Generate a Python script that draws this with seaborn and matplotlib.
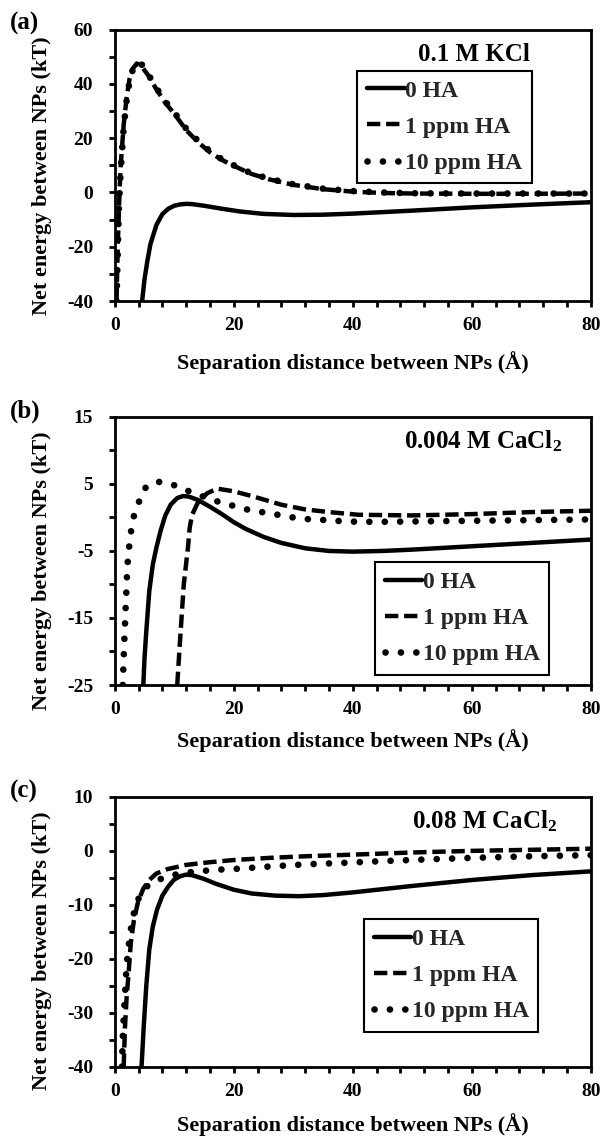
import matplotlib
matplotlib.use("Agg")
import matplotlib.pyplot as plt
import seaborn as sns
from matplotlib.ticker import MultipleLocator

# estilo general
sns.set_theme(style="ticks")
plt.rcParams["font.family"] = ["Liberation Serif", "DejaVu Serif"]
plt.rcParams["font.weight"] = "bold"
plt.rcParams["mathtext.fontset"] = "custom"
plt.rcParams["mathtext.rm"] = "Liberation Serif:bold"
plt.rcParams["mathtext.default"] = "rm"
plt.rcParams["axes.unicode_minus"] = False

series_labels = ["0 HA", "1 ppm HA", "10 ppm HA"]

# (a) 0.1 M KCl
a_x0 = [4.6, 5.0, 5.5, 6.0, 7.0, 8.0, 9.0, 10, 11, 12, 13, 15, 18, 21, 25, 30, 35, 40, 50, 60, 70, 80]
a_y0 = [-40, -32, -25, -19, -12, -8, -6, -4.9, -4.4, -4.2, -4.3, -4.9, -6.0, -7.0, -7.9, -8.3, -8.2, -7.8, -6.7, -5.5, -4.5, -3.6]
a_x1 = [0.3, 0.5, 0.8, 1.0, 1.5, 2.0, 2.5, 3.0, 3.7, 4.5, 5.5, 7, 8.5, 10, 12, 14, 16, 18, 20, 23, 26, 30, 35, 40, 45, 50, 60, 70, 80]
a_y1 = [-40, -20, 0, 10, 25, 35, 42, 45.5, 47.5, 46.5, 43.5, 38, 33, 29, 23, 18.5, 14.8, 12, 9.8, 6.8, 4.8, 2.8, 1.2, 0.3, -0.2, -0.4, -0.5, -0.5, -0.4]
a_x2 = [0.3, 0.5, 0.7, 1.0, 1.5, 2.0, 2.5, 3.0, 3.5, 4.0, 4.7, 5.5, 7, 8.5, 10, 12, 14, 16, 18, 20, 23, 26, 30, 35, 40, 45, 50, 60, 70, 80]
a_y2 = [-40, -22, -5, 8, 24, 34, 41, 45, 47.3, 48, 46.8, 44, 38.5, 33.5, 29.5, 23.5, 19, 15.2, 12.2, 10, 7, 5, 3, 1.4, 0.5, 0, -0.3, -0.4, -0.4, -0.4]

# (b) 0.004 M CaCl2
b_x0 = [4.8, 5.0, 5.3, 5.8, 6.4, 7.0, 7.7, 8.5, 9.4, 10.5, 11.5, 12.5, 14, 16, 18, 20, 22, 25, 28, 32, 36, 40, 45, 50, 60, 70, 80]
b_y0 = [-25, -21, -17, -11, -7, -4.5, -2.0, 0.3, 1.9, 2.9, 3.2, 3.1, 2.6, 1.6, 0.5, -0.7, -1.7, -2.9, -3.8, -4.6, -5.0, -5.1, -5.0, -4.8, -4.3, -3.8, -3.3]
b_x1 = [10.5, 11.0, 11.6, 12.3, 12.6, 13.0, 13.9, 15.5, 17.2, 20, 23.4, 28, 32, 36, 41, 50, 60, 70, 80]
b_y1 = [-25, -18, -10, -4.5, -1.5, 0.4, 2.1, 3.6, 4.3, 3.9, 3.1, 1.9, 1.2, 0.8, 0.4, 0.3, 0.5, 0.8, 1.0]
b_x2 = [1.35, 1.5, 1.6, 1.7, 1.8, 1.9, 2.0, 2.1, 2.3, 2.6, 2.9, 3.3, 3.8, 4.5, 5.3, 6.2, 7.5, 8.6, 10, 11, 13.3, 15.6, 18.2, 20.6, 23, 25.5, 28, 30.6, 33, 35.6, 38, 41, 45, 50, 60, 70, 80]
b_y2 = [-25, -21, -18.5, -16.5, -14, -12, -10, -7.6, -5.2, -3.1, -0.9, 0.5, 1.6, 3.5, 4.6, 5.1, 5.3, 5.2, 4.8, 4.45, 3.6, 2.9, 2.1, 1.6, 1.0, 0.7, 0.3, -0.1, -0.3, -0.4, -0.55, -0.65, -0.65, -0.6, -0.5, -0.4, -0.3]

# (c) 0.08 M CaCl2
c_x0 = [4.5, 4.9, 5.3, 5.8, 6.4, 7.1, 8.0, 9.0, 10, 11, 12, 13, 15, 17, 20, 23, 27, 31, 35, 40, 45, 50, 60, 70, 80]
c_y0 = [-40, -32, -25, -18.3, -14, -10.9, -8.3, -6.6, -5.3, -4.7, -4.4, -4.5, -5.2, -6.1, -7.2, -7.9, -8.3, -8.4, -8.2, -7.7, -7.1, -6.5, -5.4, -4.5, -3.8]
c_x1 = [1.5, 1.7, 2.0, 2.3, 2.7, 3.2, 3.9, 4.8, 5.8, 7.0, 8.8, 12, 16, 20, 26, 32, 40, 50, 60, 70, 80]
c_y1 = [-40, -33, -27, -23, -17, -13, -9.5, -7, -5.4, -4.2, -3.4, -2.6, -2.1, -1.7, -1.3, -1.0, -0.7, -0.3, 0.0, 0.2, 0.4]
c_x2 = [1.2, 1.4, 1.7, 2.0, 2.5, 3.0, 3.7, 4.5, 5.5, 7, 9, 11, 13, 17, 21, 26, 32, 39, 45, 52, 60, 70, 80]
c_y2 = [-40, -33, -27, -21, -16, -12.5, -9.5, -7.8, -6.5, -5.5, -4.7, -4.2, -3.9, -3.5, -3.3, -2.9, -2.5, -2.2, -1.9, -1.6, -1.3, -1.0, -0.8]

panels = [
    dict(tag="(a)", note="0.1 M KCl", ylim=(-40, 60), ymaj=20, ymin=10, yoff=0,
         xs=[a_x0, a_x1, a_x2], ys=[a_y0, a_y1, a_y2], notex=0.872, ylab_y=0.46,
         rect=[0.190, 0.735, 0.788, 0.239], leg=(0.51, 0.849), xlpad=12),
    dict(tag="(b)", note="0.004 M CaCl$_2$", ylim=(-25, 15), ymaj=10, ymin=5, yoff=5,
         xs=[b_x0, b_x1, b_x2], ys=[b_y0, b_y1, b_y2], notex=0.939, ylab_y=0.425,
         rect=[0.190, 0.397, 0.788, 0.236], leg=(0.547, 0.459), xlpad=8),
    dict(tag="(c)", note="0.08 M CaCl$_2$", ylim=(-40, 10), ymaj=10, ymin=5, yoff=0,
         xs=[c_x0, c_x1, c_x2], ys=[c_y0, c_y1, c_y2], notex=0.931, ylab_y=0.43,
         rect=[0.190, 0.061, 0.788, 0.2375], leg=(0.524, 0.548), xlpad=10),
]

styles = [
    dict(linestyle="-", linewidth=3.2),
    dict(linestyle=(0, (3.0, 1.3)), linewidth=3.2, dash_capstyle="butt"),
    dict(linestyle=(0, (0.01, 2.3)), linewidth=4.8, dash_capstyle="round"),
]

fig = plt.figure(figsize=(6.04, 11.36), dpi=100)

for p in panels:
    ax = fig.add_axes(p["rect"])
    for x, y, lab, st in zip(p["xs"], p["ys"], series_labels, styles):
        sns.lineplot(x=x, y=y, ax=ax, color="black", label=lab, sort=False,
                     estimator=None, **st)
    ax.set_xlim(0, 80)
    ax.set_ylim(*p["ylim"])
    ax.xaxis.set_major_locator(MultipleLocator(20))
    ax.xaxis.set_minor_locator(MultipleLocator(4))
    ax.yaxis.set_major_locator(MultipleLocator(p["ymaj"], offset=p["yoff"]))
    ax.yaxis.set_minor_locator(MultipleLocator(p["ymin"]))
    for which in ("major", "minor"):
        ax.tick_params(axis="both", which=which, direction="out", length=4.5,
                       width=2, color="black", bottom=True, left=True,
                       top=False, right=False)
    ax.tick_params(axis="x", which="major", labelsize=14, pad=7, labelcolor="black")
    ax.tick_params(axis="y", which="major", labelsize=14, pad=11, labelcolor="black")
    for s in ax.spines.values():
        s.set_visible(True)
        s.set_linewidth(2)
        s.set_color("black")
    ax.set_xlabel("Separation distance between NPs (\u00c5)", fontsize=16,
                  fontweight="bold", labelpad=p["xlpad"], color="black")
    ax.set_ylabel("Net energy between NPs (kT)", fontsize=16,
                  fontweight="bold", color="black")
    ax.yaxis.set_label_coords(-0.132, p["ylab_y"])
    ax.text(p["notex"], 0.884, p["note"], transform=ax.transAxes,
            ha="right", va="baseline", fontsize=18, fontweight="bold", color="black")
    leg = ax.legend(loc="upper left", bbox_to_anchor=p["leg"], borderaxespad=0,
                    fontsize=17, frameon=True, fancybox=False, framealpha=1,
                    edgecolor="black", handlelength=1.6, handletextpad=0.02,
                    labelspacing=0.62, borderpad=0.4)
    leg.get_frame().set_linewidth(1.5)
    for t in leg.get_texts():
        t.set_fontweight("bold")
    x0, y0, w, h = p["rect"]
    fig.text(10 / 604, y0 + h + 0.005, p["tag"], ha="left", va="center",
             fontsize=18, fontweight="bold", color="black")

fig.savefig("out.png", dpi=100)
